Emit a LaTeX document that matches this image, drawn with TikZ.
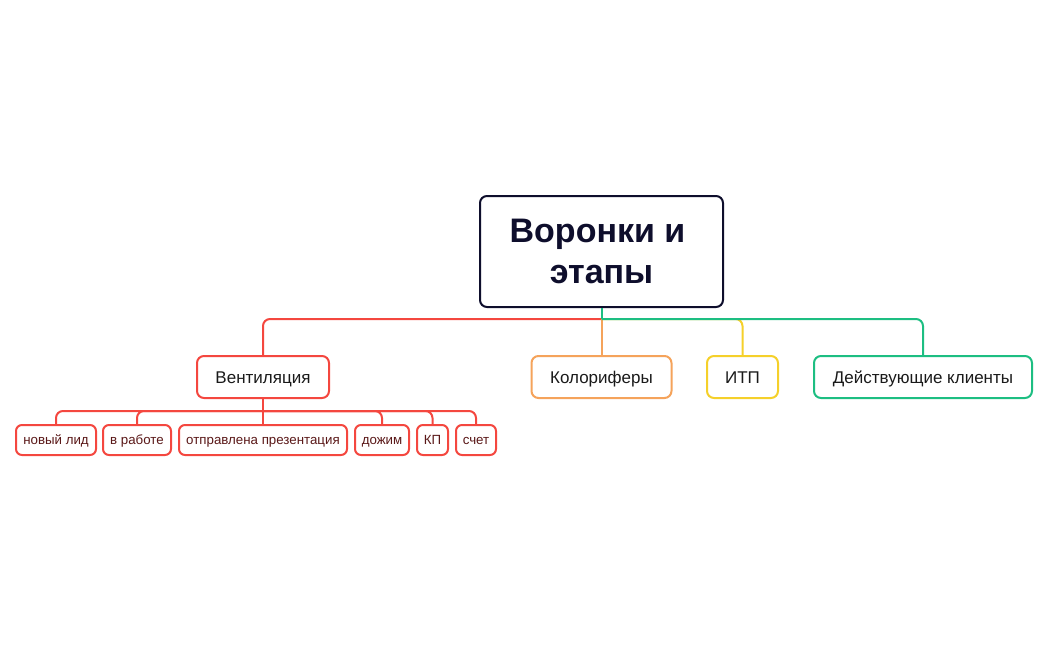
\documentclass[tikz,border=0pt]{standalone}
\usepackage{fontspec}
\setmainfont{Liberation Sans}
\definecolor{cred}{HTML}{F4473F}
\definecolor{corange}{HTML}{F5A35B}
\definecolor{cyellow}{HTML}{F5D02A}
\definecolor{cgreen}{HTML}{1DBE82}
\definecolor{croot}{HTML}{0E0E2C}
\definecolor{ctext}{HTML}{1A1A1A}
\definecolor{csub}{HTML}{5A1818}
\begin{document}
\begin{tikzpicture}[x=1pt,y=-1pt,
  rootbox/.style={draw=croot,line width=2pt,rounded corners=7pt,fill=white,minimum width=243pt,minimum height=111pt,align=center,text=croot,font=\fontsize{34}{41}\selectfont\bfseries,inner sep=0pt},
  lvlone/.style={draw=#1,line width=2pt,rounded corners=7pt,fill=white,minimum height=42pt,inner sep=0pt,text height=12pt,text depth=0pt,text=ctext,font=\fontsize{17}{19}\selectfont},
  lvltwo/.style={draw=cred,line width=2pt,rounded corners=6pt,fill=white,minimum height=30pt,inner sep=0pt,text height=9.5pt,text depth=0pt,text=csub,font=\fontsize{13.3}{15}\selectfont},
  conn/.style={draw=#1,line width=2pt,rounded corners=7pt}]
\useasboundingbox (0,0) rectangle (1049,650);
\coordinate (j) at (601.5,319);
\coordinate (k) at (263,411);
% level 1 nodes
\node[lvlone=cred,minimum width=132pt] (vent) at (263,377) {Вентиляция};
\node[lvlone=corange,minimum width=140pt] (kol) at (601.5,377) {Колориферы};
\node[lvlone=cyellow,minimum width=71pt] (itp) at (742.5,377) {ИТП};
\node[lvlone=cgreen,minimum width=218pt] (dk) at (923,377) {Действующие клиенты};
% level 2 nodes
\node[lvltwo,minimum width=80pt] (n1) at (56,440) {новый лид};
\node[lvltwo,minimum width=68pt] (n2) at (137,440) {в работе};
\node[lvltwo,minimum width=168pt] (n3) at (263,440) {отправлена презентация};
\node[lvltwo,minimum width=54pt] (n4) at (382,440) {дожим};
\node[lvltwo,minimum width=31pt] (n5) at (432.5,440) {КП};
\node[lvltwo,minimum width=40pt] (n6) at (476,440) {счет};
% connectors level 1
\draw[conn=cred] (j) -| (vent.north);
\draw[conn=corange] (j) -- (kol.north);
\draw[conn=cyellow] (j) -| (itp.north);
\draw[conn=cgreen] (j) -| (dk.north);
\node[rootbox] (root) at (601.5,251.5) {Воронки и\kern8pt\\этапы};
\draw[conn=cgreen] (root.south) -- (j);
% connectors level 2
\draw[conn=cred] (vent.south) -- (k);
\draw[conn=cred] (k) -| (n1.north);
\draw[conn=cred] (k) -| (n2.north);
\draw[conn=cred] (k) -- (n3.north);
\draw[conn=cred] (k) -| (n4.north);
\draw[conn=cred] (k) -| (n5.north);
\draw[conn=cred] (k) -| (n6.north);
\end{tikzpicture}
\end{document}
